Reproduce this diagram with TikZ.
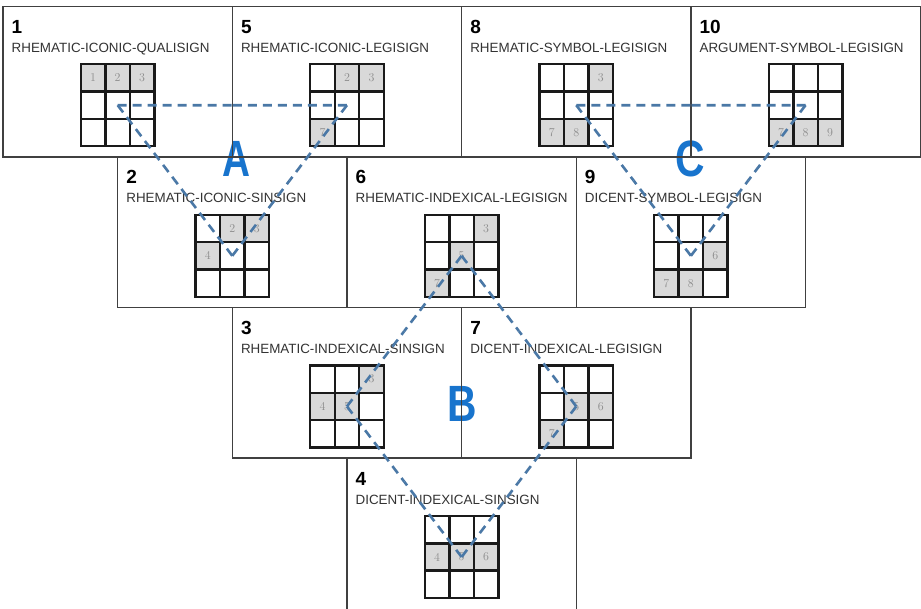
\documentclass[tikz,border=0pt]{standalone}
\usepackage{fontspec}
\usepackage{graphicx}
\newfontfamily\lab{Liberation Sans}
\usetikzlibrary{calc}

\definecolor{boxline}{HTML}{404040}
\definecolor{gridline}{HTML}{1A1A1A}
\definecolor{shadecell}{HTML}{D9D9D9}
\definecolor{cellnum}{HTML}{8C8C8C}
\definecolor{dashblue}{HTML}{4A78A6}
\definecolor{letterblue}{HTML}{1874CD}

\tikzset{
  signbox/.style={draw=boxline, line width=1.4pt, minimum width=229.3pt, minimum height=150.6pt,
    inner sep=0pt, outer sep=0pt, anchor=north west},
  gridbox/.style={minimum width=73.5pt, minimum height=82pt, inner sep=0pt, outer sep=0pt},
  gridst/.style={draw=gridline, line width=2.4pt},
  numst/.style={font=\lab\fontsize{19}{19}\bfseries\selectfont, anchor=base west, inner sep=0pt, text=black},
  labst/.style={font=\lab\fontsize{13.4}{13.4}\selectfont, anchor=base west, inner sep=0pt, text=black!80},
  cellst/.style={font=\fontsize{12}{12}\selectfont, text=cellnum, inner sep=0pt},
  bigletter/.style={font=\lab\fontsize{51}{51}\bfseries\selectfont, text=letterblue, inner sep=0pt},
  link/.style={draw=dashblue, line width=2.6pt, dash pattern=on 9pt off 6pt},
}

\newcommand\SignBox[6]{%
  \node[signbox,#6] (#1) at (#2) {};
  \node[numst] (#1num) at ($(#1.north west)+(8.5,27)$) {#3};
  \node[labst] (#1lab) at ($(#1.north west)+(8.5,46)$) {#4};
  \node[gridbox] (#1g) at ($(#1.north west)+(114.65,99)$) {};
  \foreach \cn in {#5} {
    \pgfmathtruncatemacro\rr{div(\cn-1,3)}
    \pgfmathtruncatemacro\cc{mod(\cn-1,3)}
    \fill[shadecell] ($(#1g.north west)+(\cc*24.5,\rr*27.3333)$) rectangle +(24.5,27.3333);
    \node[cellst] (#1c\cn) at ($(#1g.north west)+(\cc*24.5+12.25,\rr*27.3333+13.6667)$) {\cn};
  }
  \foreach \i in {1,2} {
    \draw[gridst] ($(#1g.north west)+(\i*24.5,0)$) -- ++(0,82);
    \draw[gridst] ($(#1g.north west)+(0,\i*27.3333)$) -- ++(73.5,0);
  }
  \draw[gridst] (#1g.north west) rectangle (#1g.south east);
}

\newcommand\LinkEdge[2]{%
  \draw[link] (#1) -- ($(#1)!0.5!(#2)$);
  \draw[link] (#2) -- ($(#1)!0.5!(#2)$);
}

\begin{document}
\begin{tikzpicture}[x=1pt,y=-1pt]
  \useasboundingbox (0,0) rectangle (921,608);
  \fill[white] (0,0) rectangle (921,608);
  \clip (0,0) rectangle (921,608);

  % group letters (under the box borders)
  \node[bigletter] (LA) at (236.5,159) {\scalebox{0.76}[1]{A}};
  \node[bigletter] (LB) at (462.5,403.5) {\scalebox{0.8}[1]{B}};
  \node[bigletter] (LC) at (690.5,159) {\scalebox{0.8}[1]{C}};

  % row 1
  \SignBox{b1}{3,6.2}{1}{RHEMATIC-ICONIC-QUALISIGN}{1,2,3}{}
  \SignBox{b5}{232.3,6.2}{5}{RHEMATIC-ICONIC-LEGISIGN}{2,3,7}{}
  \SignBox{b8}{461.6,6.2}{8}{RHEMATIC-SYMBOL-LEGISIGN}{3,7,8}{}
  \SignBox{b10}{690.9,6.2}{10}{ARGUMENT-SYMBOL-LEGISIGN}{7,8,9}{}
  % row 2
  \SignBox{b2}{117.65,156.8}{2}{RHEMATIC-ICONIC-SINSIGN}{2,3,4}{}
  \SignBox{b6}{346.95,156.8}{6}{RHEMATIC-INDEXICAL-LEGISIGN}{3,5,7}{}
  \SignBox{b9}{576.25,156.8}{9}{DICENT-SYMBOL-LEGISIGN}{6,7,8}{}
  % row 3
  \SignBox{b3}{232.3,307.4}{3}{RHEMATIC-INDEXICAL-SINSIGN}{3,4,5}{}
  \SignBox{b7}{461.6,307.4}{7}{DICENT-INDEXICAL-LEGISIGN}{5,6,7}{}
  % row 4
  \SignBox{b4}{346.95,458}{4}{DICENT-INDEXICAL-SINSIGN}{4,5,6}{minimum height=160pt}

  % group A
  \LinkEdge{b1g.center}{b5g.center}
  \LinkEdge{b5g.center}{b2g.center}
  \LinkEdge{b2g.center}{b1g.center}
  % group C
  \LinkEdge{b8g.center}{b10g.center}
  \LinkEdge{b10g.center}{b9g.center}
  \LinkEdge{b9g.center}{b8g.center}
  % group B
  \LinkEdge{b6g.center}{b3g.center}
  \LinkEdge{b3g.center}{b4g.center}
  \LinkEdge{b4g.center}{b7g.center}
  \LinkEdge{b7g.center}{b6g.center}
\end{tikzpicture}
\end{document}
